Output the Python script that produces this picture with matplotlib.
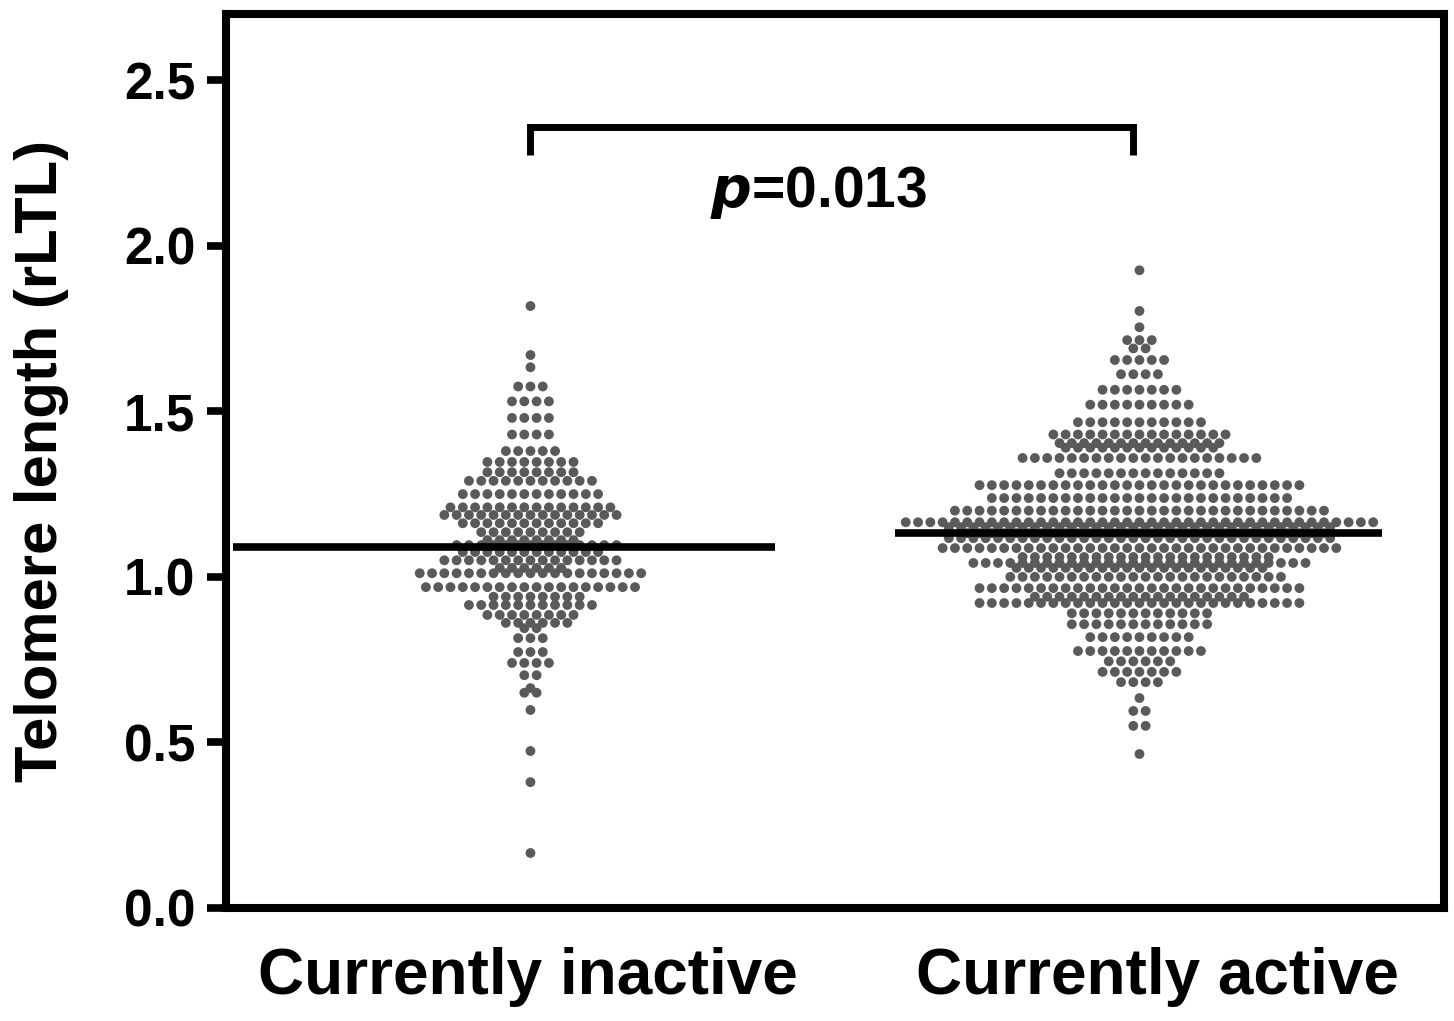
import numpy as np
import matplotlib
matplotlib.use("Agg")
from matplotlib import pyplot as plt

plt.rcParams['font.family'] = ['Liberation Sans', 'DejaVu Sans']
plt.rcParams['font.weight'] = 'bold'

groups = ['Currently inactive', 'Currently active']

# dot rows: (rLTL value, number of dots in that row)
inactive_y = [1.818, 1.670, 1.633, 1.575, 1.53, 1.48, 1.43, 1.38, 1.347, 1.316,
              1.29, 1.25, 1.21, 1.187, 1.162, 1.135, 1.111, 1.096, 1.075, 1.05,
              1.027, 1.011, 0.969, 0.94, 0.915, 0.885, 0.861, 0.845, 0.815, 0.773,
              0.74, 0.703, 0.664, 0.65, 0.598, 0.474, 0.380, 0.166]
inactive_n = [1, 1, 1, 3, 4, 4, 4, 5, 8, 8,
              11, 12, 14, 15, 12, 9, 8, 14, 12, 15,
              6, 19, 18, 8, 11, 8, 6, 2, 3, 3,
              4, 2, 1, 2, 1, 1, 1, 1]

active_y = [1.926, 1.803, 1.754, 1.715, 1.69, 1.655, 1.612, 1.565, 1.52, 1.467,
            1.43, 1.404, 1.39, 1.359, 1.313, 1.277, 1.238, 1.2, 1.165, 1.15,
            1.132, 1.117, 1.087, 1.06, 1.042, 1.027, 1.0, 0.966, 0.94, 0.921,
            0.89, 0.857, 0.818, 0.776, 0.745, 0.713, 0.682, 0.634, 0.595, 0.55,
            0.465]
active_n = [1, 1, 1, 3, 2, 5, 4, 7, 9, 11,
            15, 14, 13, 20, 14, 27, 25, 31, 39, 32,
            30, 32, 33, 21, 28, 21, 23, 27, 18, 27,
            12, 12, 9, 11, 6, 7, 4, 1, 2, 2,
            1]

means = [1.09, 1.132]
mean_span = [(-0.489, 0.402), (-0.401, 0.399)]
p_text = r'$\mathit{p}$=0.013'

step = 0.0202  # horizontal distance between neighbouring dots (data units)


def swarm(center, ys, ns):
    xs, yy = [], []
    prev_y, prev_shift, prev_par = None, 0.0, None
    for y, n in zip(ys, ns):
        shift = 0.0
        if prev_y is not None and abs(prev_y - y) < 0.03 and n % 2 == prev_par:
            shift = step / 2 if prev_shift == 0 else 0.0
        off = (np.arange(n) - (n - 1) / 2) * step + shift
        xs.extend(center + off)
        yy.extend([y] * n)
        prev_y, prev_shift, prev_par = y, shift, n % 2
    return np.array(xs), np.array(yy)


fig = plt.figure(figsize=(14.54, 10.21), dpi=100)
ax = fig.add_axes([0.1554, 0.1107, 0.8377, 0.8756])

for i, (ys, ns) in enumerate([(inactive_y, inactive_n), (active_y, active_n)]):
    x, y = swarm(i, ys, ns)
    ax.scatter(x, y, s=50, color='#5a5a5a', edgecolors='none', zorder=2)
    ax.plot([i + mean_span[i][0], i + mean_span[i][1]], [means[i], means[i]],
            color='black', lw=5.5, solid_capstyle='butt', zorder=3)

# significance bracket
ax.plot([0, 0, 0.99, 0.99], [2.275, 2.36, 2.36, 2.275], color='black', lw=5,
        solid_joinstyle='miter', solid_capstyle='butt')
ax.text(0.473, 2.16, p_text, ha='center', va='center', fontsize=41, fontweight='bold')

ax.set_xlim(-0.5, 1.5)
ax.set_ylim(0, 2.7)
ax.set_yticks([0.0, 0.5, 1.0, 1.5, 2.0, 2.5])
ax.set_yticklabels(['0.0', '0.5', '1.0', '1.5', '2.0', '2.5'])
ax.set_xticks([-0.005, 1.03])
ax.set_xticklabels(groups, fontsize=46)
ax.tick_params(axis='x', length=0, pad=28)
ax.tick_params(axis='y', length=14, width=5.5, labelsize=37, pad=8)

for s in ax.spines.values():
    s.set_linewidth(5.8)

ax.set_ylabel('Telomere length (rLTL)', fontsize=43, fontweight='bold')
ax.yaxis.set_label_coords(-0.129, 0.5)

fig.savefig('out.png', dpi=100)
